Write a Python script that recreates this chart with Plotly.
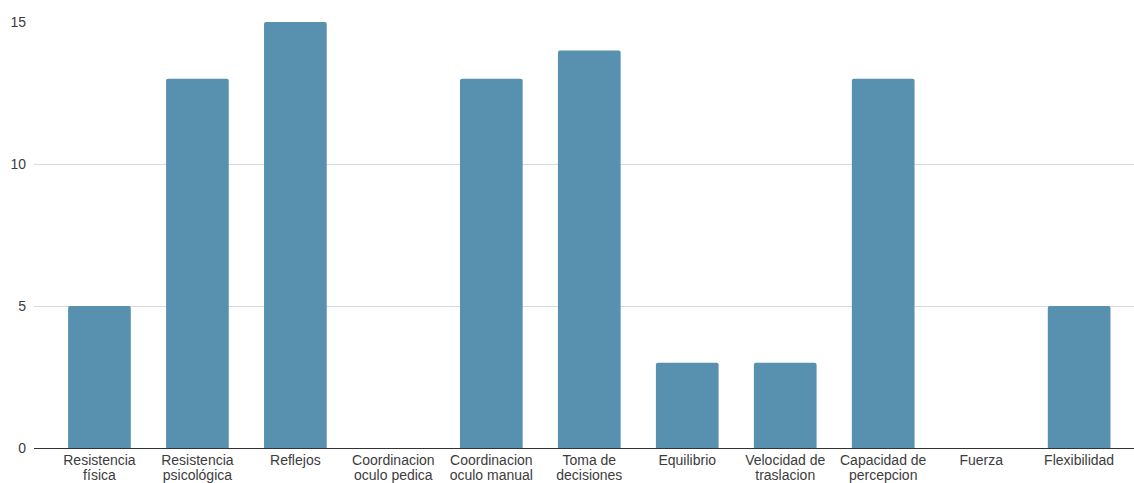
import plotly.graph_objects as go

line1 = ["Resistencia", "Resistencia", "Reflejos", "Coordinacion", "Coordinacion",
         "Toma de", "Equilibrio", "Velocidad de", "Capacidad de", "Fuerza", "Flexibilidad"]
line2 = ["física", "psicológica", "", "oculo pedica", "oculo manual",
         "decisiones", "", "traslacion", "percepcion", "", ""]
values = [5, 13, 15, 0, 13, 14, 3, 3, 13, 0, 5]
y_ticks = [0, 5, 10, 15]

idx = list(range(len(line1)))
xr = [-0.668, 10.56]

fig = go.Figure(go.Bar(
    x=idx, y=values,
    marker=dict(color="#5891af", line=dict(width=0), cornerradius=2),
    width=0.64, hoverinfo="skip",
))
# second-line labels on an overlaid axis (no visible marks)
fig.add_trace(go.Scatter(x=idx, y=[0] * len(idx), xaxis="x2", mode="markers",
                         marker=dict(opacity=0), hoverinfo="skip"))

common = dict(range=xr, tickmode="array", tickvals=idx, showgrid=False,
              zeroline=False, showline=False, ticks="", tickangle=0,
              automargin=False)

fig.update_layout(
    width=1134, height=483,
    margin=dict(l=34, r=0, t=22, b=35),
    paper_bgcolor="white", plot_bgcolor="white",
    font=dict(family="Liberation Sans, Arial, sans-serif", size=14, color="#3c3c3c"),
    showlegend=False,
    xaxis=dict(ticktext=line1, ticklabelstandoff=2, **common),
    xaxis2=dict(ticktext=line2, overlaying="x", side="bottom", anchor="y",
                ticklabelstandoff=17, **common),
    yaxis=dict(
        range=[0, 15], tickvals=y_ticks,
        showgrid=True, gridcolor="#d9d9d9", gridwidth=1,
        zeroline=True, zerolinecolor="#333", zerolinewidth=1,
        showline=False, ticks="", automargin=False, ticklabelstandoff=7,
    ),
)

fig.write_html("out.html")
